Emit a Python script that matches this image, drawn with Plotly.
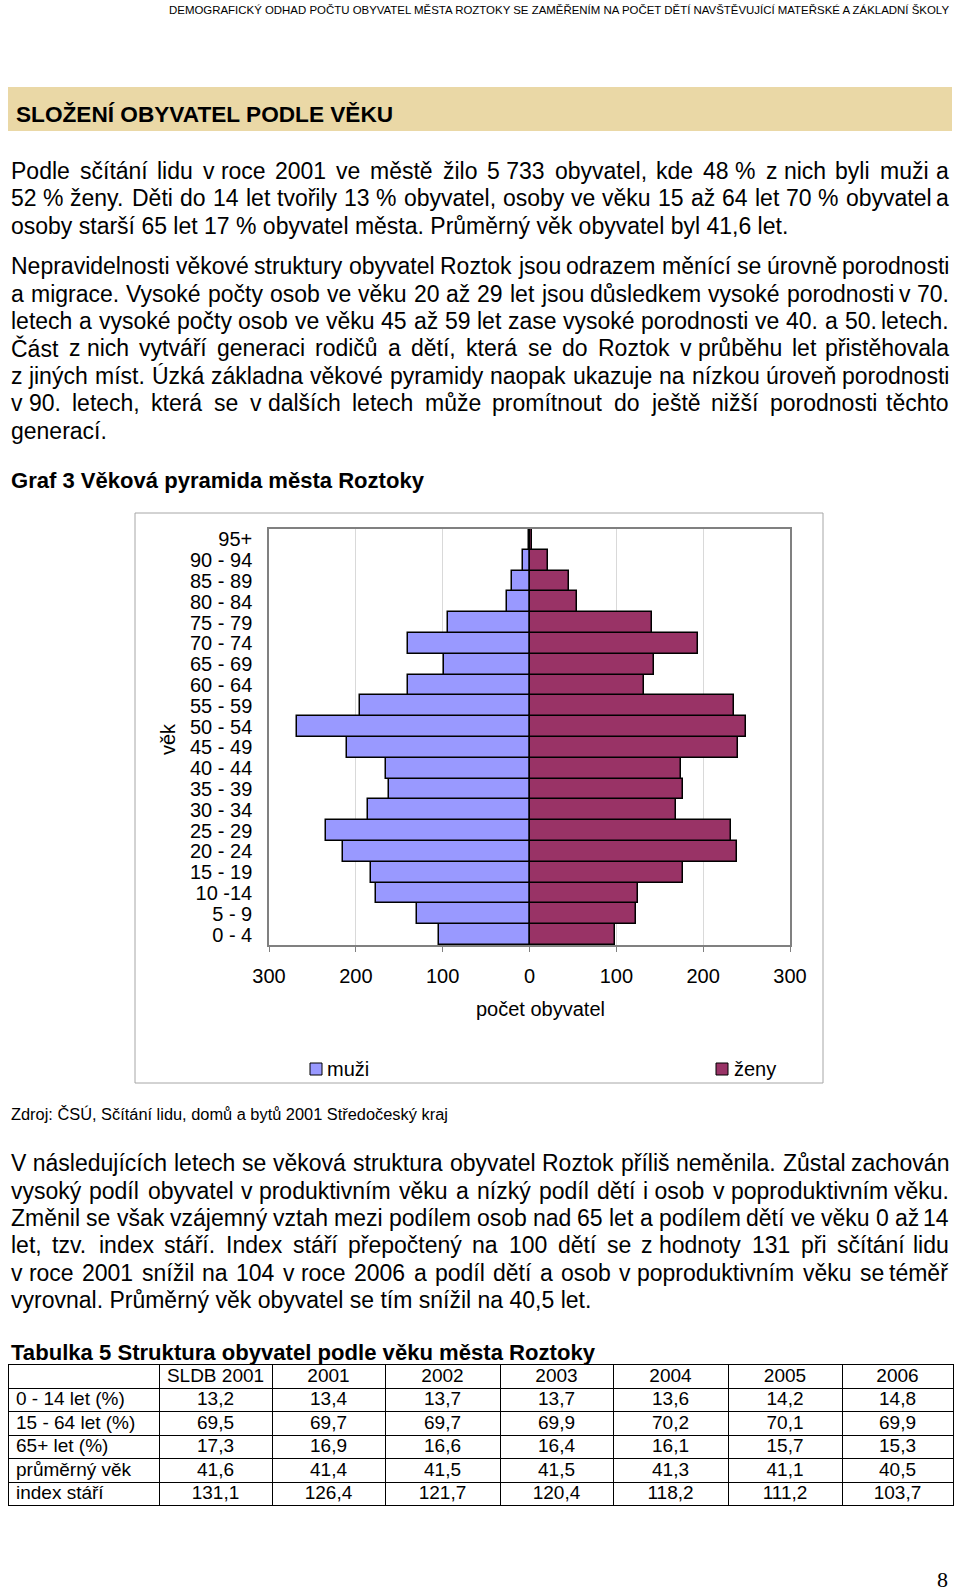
import unicodedata
import plotly.graph_objects as go

W, H = 960, 1593
FONT = "Liberation Sans"

# ---------------- data ----------------
age_groups = ["0 - 4", "5 - 9", "10 -14", "15 - 19", "20 - 24", "25 - 29", "30 - 34",
              "35 - 39", "40 - 44", "45 - 49", "50 - 54", "55 - 59", "60 - 64",
              "65 - 69", "70 - 74", "75 - 79", "80 - 84", "85 - 89", "90 - 94", "95+"]
males = [104, 129, 177, 183, 215, 234, 186, 162, 165, 210, 268, 195, 140, 98, 140, 94, 26, 20, 8, 1]
females = [99, 123, 125, 177, 239, 232, 169, 177, 174, 240, 249, 236, 132, 143, 194, 141, 55, 45, 21, 3]
x_tickvals = [-300, -200, -100, 0, 100, 200, 300]
x_ticktext = ["300", "200", "100", "0", "100", "200", "300"]

table_header = ["", "SLDB 2001", "2001", "2002", "2003", "2004", "2005", "2006"]
table_rows = ["0 - 14 let (%)", "15 - 64 let (%)", "65+ let (%)", "průměrný věk", "index stáří"]
t_sldb2001 = [13.2, 69.5, 17.3, 41.6, 131.1]
t_2001 = [13.4, 69.7, 16.9, 41.4, 126.4]
t_2002 = [13.7, 69.7, 16.6, 41.5, 121.7]
t_2003 = [13.7, 69.9, 16.4, 41.5, 120.4]
t_2004 = [13.6, 70.2, 16.1, 41.3, 118.2]
t_2005 = [14.2, 70.1, 15.7, 41.1, 111.2]
t_2006 = [14.8, 69.9, 15.3, 40.5, 103.7]

NB = "\u00a0"
para1 = [
    ("Podle sčítání lidu v" + NB + "roce 2001 ve městě žilo 5" + NB + "733 obyvatel, kde 48" + NB + "% z" + NB + "nich byli muži a", True),
    ("52" + NB + "% ženy. Děti do 14 let tvořily 13" + NB + "% obyvatel, osoby ve věku 15 až 64 let 70" + NB + "% obyvatel a", True),
    ("osoby starší 65 let 17 % obyvatel města. Průměrný věk obyvatel byl 41,6 let.", False),
]
para2 = [
    ("Nepravidelnosti věkové struktury obyvatel Roztok jsou odrazem měnící se úrovně porodnosti", True),
    ("a migrace. Vysoké počty osob ve věku 20 až 29 let jsou důsledkem vysoké porodnosti v" + NB + "70.", True),
    ("letech a vysoké počty osob ve věku 45 až 59 let zase vysoké porodnosti ve 40. a 50. letech.", True),
    ("Část z" + NB + "nich vytváří generaci rodičů a dětí, která se do Roztok v" + NB + "průběhu let přistěhovala", True),
    ("z" + NB + "jiných míst. Úzká základna věkové pyramidy naopak ukazuje na nízkou úroveň porodnosti", True),
    ("v" + NB + "90. letech, která se v" + NB + "dalších letech může promítnout do ještě nižší porodnosti těchto", True),
    ("generací.", False),
]
para3 = [
    ("V" + NB + "následujících letech se věková struktura obyvatel Roztok příliš neměnila. Zůstal zachován", True),
    ("vysoký podíl obyvatel v" + NB + "produktivním věku a nízký podíl dětí i" + NB + "osob v" + NB + "poproduktivním věku.", True),
    ("Změnil se však vzájemný vztah mezi podílem osob nad 65 let a podílem dětí ve věku 0 až 14", True),
    ("let, tzv. index stáří. Index stáří přepočtený na 100 dětí se z" + NB + "hodnoty 131 při sčítání lidu", True),
    ("v" + NB + "roce 2001 snížil na 104 v" + NB + "roce 2006 a podíl dětí a osob v" + NB + "poproduktivním věku se téměř", True),
    ("vyrovnal. Průměrný věk obyvatel se tím snížil na 40,5 let.", False),
]

# ---------------- text metrics (Arial / Liberation Sans) ----------------
REG = {' ': 278, NB: 278, '.': 278, ',': 278, ':': 278, ';': 278, '%': 889, '(': 333, ')': 333,
       '-': 333, '+': 584}
BOLD = {' ': 278, NB: 278, '.': 278, ',': 278, ':': 333, ';': 333, '%': 889, '(': 333, ')': 333,
        '-': 333, '+': 584}
for c, w in zip("abcdefghijklmnopqrstuvwxyz",
                [556, 556, 500, 556, 556, 278, 556, 556, 222, 222, 500, 222, 833, 556, 556, 556, 556,
                 333, 500, 278, 556, 500, 722, 500, 500, 500]):
    REG[c] = w
for c, w in zip("ABCDEFGHIJKLMNOPQRSTUVWXYZ",
                [667, 667, 722, 722, 667, 611, 778, 722, 278, 500, 667, 556, 833, 722, 778, 667, 778,
                 722, 667, 611, 722, 667, 944, 667, 667, 611]):
    REG[c] = w
for c, w in zip("abcdefghijklmnopqrstuvwxyz",
                [556, 611, 556, 611, 556, 333, 611, 611, 278, 278, 556, 278, 889, 611, 611, 611, 611,
                 389, 556, 333, 611, 556, 778, 556, 556, 500]):
    BOLD[c] = w
for c, w in zip("ABCDEFGHIJKLMNOPQRSTUVWXYZ",
                [722, 722, 722, 722, 667, 611, 778, 722, 278, 556, 722, 611, 833, 722, 778, 667, 778,
                 722, 667, 611, 722, 667, 944, 667, 667, 611]):
    BOLD[c] = w
for d in "0123456789":
    REG[d] = 556
    BOLD[d] = 556
REG['í'] = 278
REG['Í'] = 278


def tw(s, size, bold=False):
    tab = BOLD if bold else REG
    tot = 0
    for ch in s:
        if ch in tab:
            tot += tab[ch]
        else:
            base = unicodedata.normalize('NFD', ch)[0]
            tot += tab.get(base, 556)
    return tot * size / 1000.0


def fit(s, target, bold=False):
    return target / tw(s, 1000, bold) * 1000


def X(x):
    return x / W


def Y(y):
    return 1 - y / H


annotations = []


def ann(text, x, y, size, xanchor='left', bold=False, family=FONT, angle=0):
    t = "<b>" + text + "</b>" if bold else text
    annotations.append(dict(text=t, x=X(x), y=Y(y), xref='paper', yref='paper',
                            xanchor=xanchor, yanchor='middle', showarrow=False,
                            borderpad=0, textangle=angle,
                            font=dict(family=family, size=size, color='black')))


BODY = 23.0
LEFT, RIGHT = 10, 950


def add_lines(lines, y0, step=27.4):
    for i, (text, just) in enumerate(lines):
        y = y0 + i * step
        if not just:
            ann(text, LEFT, y, BODY)
            continue
        units = text.split(' ')
        widths = [tw(u, BODY) for u in units]
        gap = (RIGHT - LEFT - sum(widths)) / (len(units) - 1)
        gap = max(gap, 0.2 * BODY)
        x = LEFT
        for k, (u, w) in enumerate(zip(units, widths)):
            if k == len(units) - 1:
                ann(u, RIGHT, y, BODY, xanchor='right')
            else:
                ann(u, x, y, BODY)
            x += w + gap


add_lines(para1, 170.7)
add_lines(para2, 266.2)
add_lines(para3, 1163.2)

header = "DEMOGRAFICKÝ ODHAD POČTU OBYVATEL MĚSTA ROZTOKY SE ZAMĚŘENÍM NA POČET DĚTÍ NAVŠTĚVUJÍCÍ MATEŘSKÉ A ZÁKLADNÍ ŠKOLY"
ann(header, 950, 10.5, fit(header, 790), xanchor='right')

title = "SLOŽENÍ OBYVATEL PODLE VĚKU"
ann(title, 15, 114.5, fit(title, 381, True), bold=True)

graf = "Graf 3 Věková pyramida města Roztoky"
ann(graf, 10, 480.5, fit(graf, 413, True), bold=True)

src = "Zdroj: ČSÚ, Sčítání lidu, domů a bytů 2001 Středočeský kraj"
ann(src, 10, 1114.4, fit(src, 437))

tab_title = "Tabulka 5 Struktura obyvatel podle věku města Roztoky"
ann(tab_title, 10, 1352.2, fit(tab_title, 586, True), bold=True)

ann("8", 942, 1579, 22, xanchor='center', family="Liberation Serif")

# chart texts
ann("počet obyvatel", 540.5, 1009, 20, xanchor='center')
ann("věk", 168, 739, 20, xanchor='center', angle=-90)
ann("muži", 326, 1069, 20)
ann("ženy", 733, 1069, 20)

shapes = [
    dict(type='rect', xref='paper', yref='paper', x0=X(8), x1=X(952), y0=Y(131), y1=Y(87),
         fillcolor='#EAD8A6', line=dict(width=0), layer='below'),
    dict(type='rect', xref='paper', yref='paper', x0=X(135), x1=X(823), y0=Y(1083), y1=Y(513),
         fillcolor='rgba(0,0,0,0)', line=dict(color='#A6A6A6', width=1)),
    dict(type='rect', xref='paper', yref='paper', x0=X(310), x1=X(322), y0=Y(1075), y1=Y(1063),
         fillcolor='#9999FF', line=dict(color='black', width=1)),
    dict(type='rect', xref='paper', yref='paper', x0=X(716), x1=X(728), y0=Y(1075), y1=Y(1063),
         fillcolor='#993366', line=dict(color='black', width=1)),
]

fig = go.Figure()
fig.add_trace(go.Bar(y=age_groups, x=[-v for v in males], orientation='h', name='muži',
                     marker=dict(color='#9999FF', line=dict(color='black', width=1.5)),
                     customdata=males, hovertemplate='%{y}: %{customdata}<extra>muži</extra>'))
fig.add_trace(go.Bar(y=age_groups, x=females, orientation='h', name='ženy',
                     marker=dict(color='#993366', line=dict(color='black', width=1.5)),
                     hovertemplate='%{y}: %{x}<extra>ženy</extra>'))


def fmt(v):
    return ("%.1f" % v).replace('.', ',')


def nb(s):
    return s.replace(' ', NB)


cols = [[nb(r) for r in table_rows]] + [[fmt(v) for v in c] for c in
                                        [t_sldb2001, t_2001, t_2002, t_2003, t_2004, t_2005, t_2006]]
ROWH = 23.5
TTOP = 1364.5
TL, TR = 8, 953
colw = [151, 113, 113, 115, 113, 115, 114, 111]
TFS = 19
# grid of the table
fig.add_trace(go.Table(
    domain=dict(x=[X(TL), X(TR)], y=[Y(TTOP + 6 * ROWH + 20), Y(TTOP)]),
    columnwidth=colw,
    header=dict(values=[""] * 8, height=ROWH, fill_color='white',
                line=dict(color='black', width=1), font=dict(size=TFS)),
    cells=dict(values=[[""] * 5 for _ in range(8)], height=ROWH, fill_color='white',
               line=dict(color='black', width=1), font=dict(size=TFS)),
))
# text of the table (shifted to sit centred in the rows)
SHIFT = 5
fig.add_trace(go.Table(
    domain=dict(x=[X(TL), X(TR)], y=[Y(TTOP - SHIFT + 6 * ROWH + 20), Y(TTOP - SHIFT)]),
    columnwidth=colw,
    header=dict(values=[nb(h) for h in table_header], height=ROWH,
                align=['left'] + ['center'] * 7,
                font=dict(family=FONT, size=TFS, color='black'),
                fill_color='rgba(0,0,0,0)', line=dict(color='rgba(0,0,0,0)', width=0)),
    cells=dict(values=cols, height=ROWH,
               align=['left'] + ['center'] * 7,
               font=dict(family=FONT, size=TFS, color='black'),
               fill_color='rgba(0,0,0,0)', line=dict(color='rgba(0,0,0,0)', width=0)),
))

fig.update_layout(
    width=W, height=H, autosize=False,
    margin=dict(l=0, r=0, t=0, b=0, pad=0, autoexpand=False),
    paper_bgcolor='white', plot_bgcolor='white',
    barmode='overlay', bargap=0,
    showlegend=False,
    annotations=annotations, shapes=shapes,
    font=dict(family=FONT, color='black'),
    xaxis=dict(domain=[X(269), X(790)], range=[-300, 300], tickmode='array', tickvals=x_tickvals,
               ticktext=x_ticktext, ticks='outside', ticklen=5, tickcolor='#808080',
               showline=True, mirror=True, linecolor='#808080', linewidth=1.5,
               showgrid=True, gridcolor='#D9D9D9', gridwidth=1, zeroline=False,
               tickfont=dict(family=FONT, size=20, color='black'), ticklabelstandoff=7,
               automargin=False, fixedrange=True),
    yaxis=dict(domain=[Y(945), Y(529)], type='category', categoryorder='array',
               categoryarray=age_groups, range=[-0.5, 19.5], tickmode='array',
               tickvals=age_groups, ticktext=age_groups, ticks='',
               showline=True, mirror=True, linecolor='#808080', linewidth=1.5,
               showgrid=False, zeroline=False,
               tickfont=dict(family=FONT, size=20, color='black'), ticklabelstandoff=11,
               automargin=False, fixedrange=True),
)

fig.write_html("out.html", config={'displayModeBar': False},
               post_script="document.body.style.margin='0px';document.body.style.overflow='hidden';")
